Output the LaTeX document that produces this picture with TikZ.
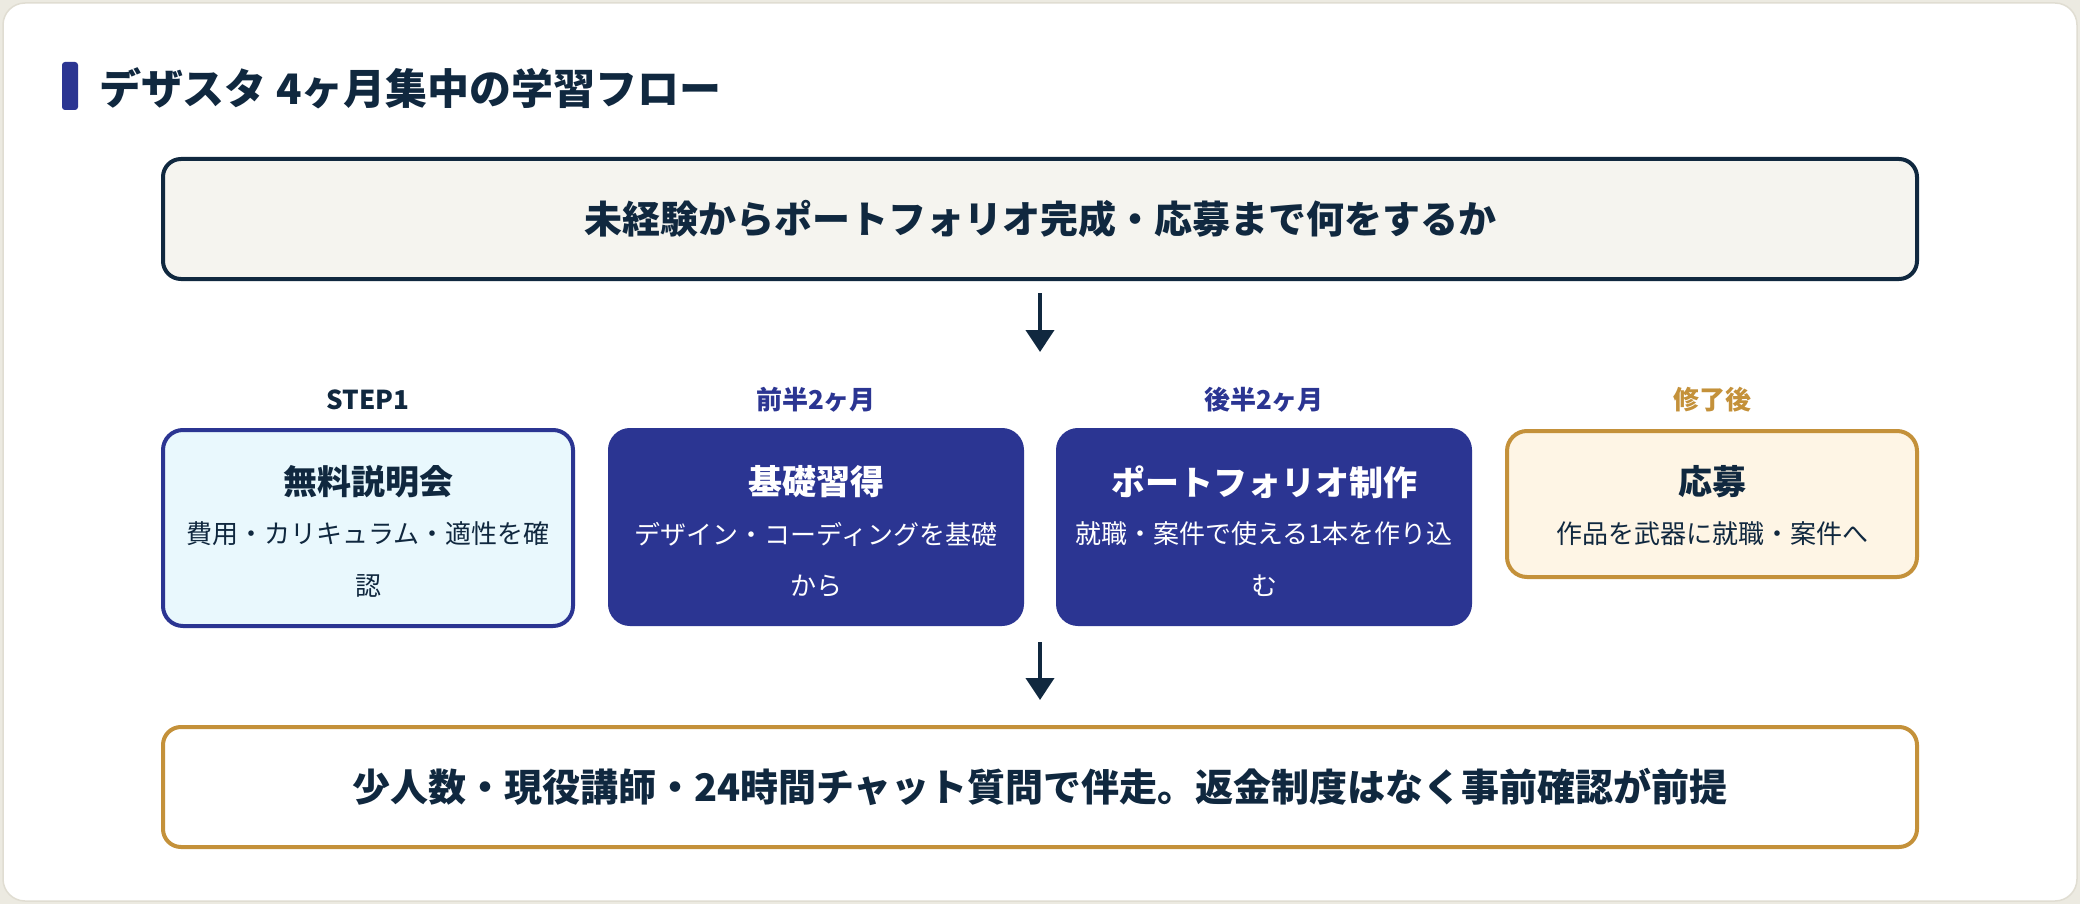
\documentclass[tikz,border=0pt]{standalone}
\usepackage{fontspec}
\setmainfont{Noto Sans CJK JP}
\usetikzlibrary{arrows.meta,calc}
\definecolor{navy}{HTML}{10283F}
\definecolor{indigo}{HTML}{2B3592}
\definecolor{gold}{HTML}{C4913A}
\definecolor{cyanfill}{HTML}{E9F8FD}
\definecolor{creamfill}{HTML}{FEF5E5}
\definecolor{topfill}{HTML}{F5F4EF}
\definecolor{pagebg}{HTML}{ECEAE1}
\definecolor{cardline}{HTML}{E0DDD2}
\newcommand{\myfs}[1]{\fontsize{#1}{#1}\selectfont}
\tikzset{
  boxbase/.style={rounded corners=20pt, line width=4pt, inner sep=0pt},
  lightblue/.style={boxbase, draw=indigo, fill=cyanfill, minimum width=410pt, minimum height=196pt},
  darkblue/.style={boxbase, draw=indigo, fill=indigo, minimum width=412pt, minimum height=194pt},
  cream/.style={boxbase, draw=gold, fill=creamfill, minimum width=410pt, minimum height=146pt},
  wide/.style={boxbase, rounded corners=18pt, minimum width=1754pt, minimum height=120pt},
  lbl/.style={inner sep=0pt, font=\myfs{26}\bfseries},
  ttl/.style={inner sep=0pt, font=\myfs{34}\bfseries},
  sub/.style={inner sep=0pt, font=\myfs{26}},
  big/.style={inner sep=0pt, font=\myfs{38}\bfseries, text=navy},
  arr/.style={draw=navy, line width=4pt, -{Triangle[length=22pt,width=28pt]}}
}
\begin{document}
\begin{tikzpicture}[x=1pt,y=-1pt]
\fill[pagebg] (0,0) rectangle (2080,904);
\useasboundingbox (0,0) rectangle (2080,904);
\filldraw[fill=white, draw=cardline, line width=1.5pt, rounded corners=22pt] (3,3) rectangle (2077,901);
% title
\fill[indigo, rounded corners=3pt] (62,62) rectangle (78,110);
\node[anchor=west, inner sep=0pt, font=\myfs{42}\bfseries, text=navy] (title) at (99,88) {デザスタ 4ヶ月集中の学習フロー};
% top box
\node[wide, draw=navy, fill=topfill] (top) at (1040,219) {};
\node[big] (toptext) at (top.center) {未経験からポートフォリオ完成・応募まで何をするか};
% step boxes
\node[lightblue] (b1) at (368,528) {};
\node[darkblue] (b2) at (816,527) {};
\node[darkblue] (b3) at (1264,527) {};
\node[cream] (b4) at (1712,504) {};
% labels
\node[lbl, text=navy] (l1) at (368,400) {STEP1};
\node[lbl, text=indigo] (l2) at (816,400) {前半2ヶ月};
\node[lbl, text=indigo] (l3) at (1264,400) {後半2ヶ月};
\node[lbl, text=gold] (l4) at (1712,400) {修了後};
% box texts
\node[ttl, text=navy] (t1) at (368,482) {無料説明会};
\node[sub, text=navy] (s1a) at (368,534) {費用・カリキュラム・適性を確};
\node[sub, text=navy] (s1b) at (368,586) {認};
\node[ttl, text=white] (t2) at (816,482) {基礎習得};
\node[sub, text=white] (s2a) at (816,534) {デザイン・コーディングを基礎};
\node[sub, text=white] (s2b) at (816,586) {から};
\node[ttl, text=white] (t3) at (1264,482) {ポートフォリオ制作};
\node[sub, text=white] (s3a) at (1264,534) {就職・案件で使える1本を作り込};
\node[sub, text=white] (s3b) at (1264,586) {む};
\node[ttl, text=navy] (t4) at (1712,482) {応募};
\node[sub, text=navy] (s4a) at (1712,534) {作品を武器に就職・案件へ};
% bottom box
\node[wide, draw=gold, fill=white] (bot) at (1040,787) {};
\node[big] (bottext) at (bot.center) {少人数・現役講師・24時間チャット質問で伴走。返金制度はなく事前確認が前提};
% arrows
\coordinate (a1e) at (1040,352);
\coordinate (a2s) at (1040,642);
\draw[arr, shorten <=12pt] (top.south) -- (a1e);
\draw[arr, shorten >=25pt] (a2s) -- (bot.north);
\end{tikzpicture}
\end{document}
